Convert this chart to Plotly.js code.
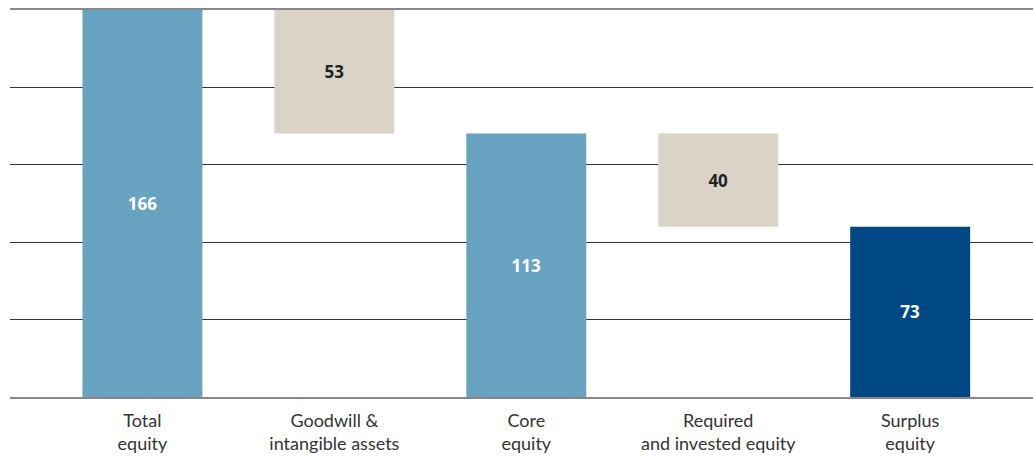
<!DOCTYPE html>
<html>
<head>
<meta charset="utf-8">
<script src="https://cdn.plot.ly/plotly-3.0.1.min.js"></script>
<style>html,body{margin:0;padding:0;background:#fff;}#chart{width:1033px;height:459px;}</style>
</head>
<body>
<div id="chart"></div>
<script>
const categories = ["Total<br>equity", "Goodwill &<br>intangible assets", "Core<br>equity", "Required<br>and invested equity", "Surplus<br>equity"];
const values = [166, 53, 113, 40, 73];
const kinds = ["total", "decrease", "total", "decrease", "final"];

// compute bases: totals start at zero, decreases hang from previous total
const bases = [];
const heights = [];
let running = 0;
for (let i = 0; i < values.length; i++) {
  if (kinds[i] === "decrease") {
    bases.push(running - values[i]);
    heights.push(values[i]);
    running -= values[i];
  } else {
    bases.push(0);
    heights.push(values[i]);
    running = values[i];
  }
}
const colorFor = {total: "#68a3c2", decrease: "#d9d3c8", final: "#004884"};
const textColorFor = {total: "#ffffff", decrease: "#222222", final: "#ffffff"};

const trace = {
  type: "bar",
  x: categories,
  y: heights,
  base: bases,
  width: 0.625,
  marker: {color: kinds.map(k => colorFor[k]), line: {width: 0}},
  text: values.map(String),
  texttemplate: "%{text}",
  textposition: "inside",
  insidetextanchor: "middle",
  textangle: 0,
  constraintext: "none",
  textfont: {family: "Open Sans, sans-serif", size: 17, color: kinds.map(k => textColorFor[k]), weight: 700},
  hoverinfo: "skip"
};

const layout = {
  width: 1033,
  height: 459,
  margin: {l: 10, r: 0, t: 10, b: 62},
  paper_bgcolor: "#ffffff",
  plot_bgcolor: "#ffffff",
  showlegend: false,
  font: {family: "Lato, sans-serif", size: 18, color: "#333333"},
  xaxis: {
    range: [-0.69, 4.64],
    showgrid: false,
    showline: true,
    linecolor: "#888888",
    linewidth: 2,
    mirror: true,
    ticks: "",
    ticklabelstandoff: 6,
    tickfont: {family: "Lato, sans-serif", size: 18, color: "#333333"},
    fixedrange: true
  },
  yaxis: {
    range: [0, 166],
    dtick: 33.2,
    tick0: 0,
    showgrid: true,
    gridcolor: "#333333",
    gridwidth: 1,
    zeroline: false,
    showticklabels: false,
    ticks: "",
    showline: false,
    fixedrange: true
  },
  bargap: 0.375
};

Plotly.newPlot("chart", [trace], layout, {displayModeBar: false, staticPlot: true});
</script>
</body>
</html>
